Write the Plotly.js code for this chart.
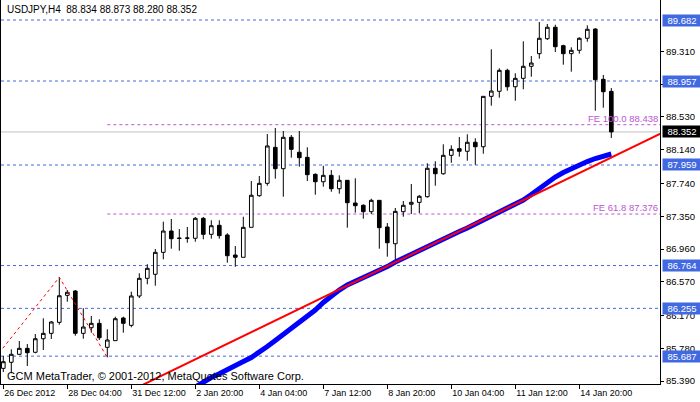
<!DOCTYPE html>
<html>
<head>
<meta charset="utf-8">
<script src="https://cdn.plot.ly/plotly-3.0.1.min.js"></script>
<style>
html,body{margin:0;padding:0;background:#fff;}
#chart{width:700px;height:402px;}
</style>
</head>
<body>
<div id="chart"></div>
<script>
const symbolName = 'USDJPY,H4';
const openP = [85.542,85.614,85.709,85.780,85.733,85.894,85.958,86.089,86.410,86.461,
85.958,86.025,86.077,85.792,85.871,86.140,86.053,86.402,86.612,86.660,
86.921,87.174,87.091,87.088,87.088,87.325,87.135,87.242,87.127,86.889,
86.862,87.218,87.594,87.741,88.169,87.915,88.288,88.110,88.050,87.848,
87.760,87.836,87.677,87.777,87.507,87.480,87.404,87.539,87.222,87.023,
87.404,87.492,87.515,87.582,87.920,87.855,88.074,88.153,88.122,88.229,
88.176,88.775,88.835,89.084,88.889,88.989,89.132,89.282,89.460,89.596,
89.377,89.282,89.322,89.465,89.575,88.977,88.834];
const highP = [85.689,85.768,85.867,85.831,85.950,86.137,86.105,86.624,86.473,86.473,
86.256,86.164,86.125,86.006,86.156,86.156,86.453,86.672,86.779,86.960,
87.285,87.317,87.198,87.222,87.341,87.341,87.302,87.302,87.147,86.996,
87.344,87.769,87.828,88.327,88.399,88.363,88.315,88.363,88.169,87.860,
87.950,87.899,87.836,87.777,87.801,87.492,87.558,87.539,87.269,87.448,
87.531,87.733,87.602,87.979,88.003,88.205,88.193,88.292,88.324,88.276,
88.775,89.334,89.108,89.103,89.049,89.429,89.254,89.659,89.635,89.626,
89.389,89.358,89.477,89.619,89.584,89.029,88.873];
const lowP = [85.498,85.483,85.700,85.570,85.721,85.760,85.891,86.061,86.334,85.930,
85.894,85.966,85.879,85.673,85.867,85.966,86.030,86.378,86.541,86.524,
86.838,86.964,86.940,87.035,87.047,87.076,87.083,87.083,86.798,86.750,
86.862,87.218,87.582,87.713,87.796,87.582,88.046,87.939,87.769,87.606,
87.701,87.641,87.618,87.214,87.392,87.321,87.376,86.964,86.869,86.830,
87.344,87.376,87.385,87.570,87.713,87.844,87.986,88.058,88.010,87.962,
88.093,88.664,88.759,88.842,88.723,88.859,89.008,89.222,89.445,89.302,
89.151,89.068,89.282,89.424,88.604,88.640,88.280];
const closeP = [85.621,85.709,85.780,85.728,85.894,85.958,86.093,86.405,86.446,85.958,
86.033,86.077,85.906,85.879,86.132,86.077,86.402,86.612,86.731,86.921,
87.174,87.083,87.086,87.091,87.325,87.135,87.237,87.119,86.881,86.862,
87.218,87.599,87.741,88.185,87.915,88.288,88.145,88.046,87.844,87.760,
87.836,87.677,87.777,87.511,87.475,87.404,87.539,87.214,87.035,87.408,
87.480,87.515,87.587,87.920,87.855,88.074,88.145,88.122,88.229,88.176,
88.775,88.838,89.084,88.889,88.989,89.132,89.171,89.465,89.596,89.365,
89.282,89.322,89.465,89.572,88.973,88.830,88.352];

// thick blue moving average, starting at bar 24
const maStart = 24;
const maBlue = [85.320,85.383,85.433,85.478,85.528,85.588,85.623,85.671,85.730,85.802,
85.873,85.944,86.016,86.087,86.164,86.235,86.325,86.408,86.473,86.533,
86.574,86.616,86.657,86.699,86.752,86.806,86.853,86.895,86.943,86.990,
87.038,87.079,87.121,87.168,87.210,87.258,87.305,87.359,87.400,87.448,
87.495,87.543,87.608,87.680,87.757,87.816,87.870,87.917,87.959,88.000,
88.036,88.066,88.090];

// red trend line (two anchor points: bar index, price)
const trendX = [17, 82.5];
const trendY = [85.326, 88.349];

// Fibonacci expansion anchor points (red dotted)
const feX = [-0.07, 7, 13];
const feY = [85.780, 86.624, 85.673];

const xTickIdx = [0,8,16,24,32,40,48,56,64,72];
const xTickText = ['26 Dec 2012','28 Dec 04:00','31 Dec 12:00','2 Jan 20:00','4 Jan 04:00','7 Jan 12:00','8 Jan 20:00','10 Jan 04:00','11 Jan 12:00','14 Jan 20:00'];
const yTicks = [89.310,88.920,88.530,88.140,87.740,87.350,86.960,86.570,86.170,85.780,85.390];

const hLevels = [89.682,88.957,87.959,86.764,86.255,85.687];
const feLevels = [88.438,87.376];
const feNames = ['FE 100.0','FE 61.8'];
const feStartBar = 13;

const idx = openP.map((_, i) => i);
const maX = maBlue.map((_, i) => i + maStart);
const last = closeP.length - 1;
const bid = closeP[last];

const FONT = 'Liberation Sans, Arial, sans-serif';
const BLUE_LVL = 'rgb(65,105,225)';
const FE_COL = 'rgb(186,85,211)';

const traces = [
  {
    type: 'candlestick', x: idx, open: openP, high: highP, low: lowP, close: closeP,
    increasing: {line: {color: '#000', width: 1}, fillcolor: '#fff'},
    decreasing: {line: {color: '#000', width: 1}, fillcolor: '#000'},
    whiskerwidth: 0, hoverinfo: 'skip', showlegend: false
  },
  {
    type: 'scatter', mode: 'lines', x: maX, y: maBlue,
    line: {color: 'rgb(0,0,255)', width: 5}, hoverinfo: 'skip', showlegend: false
  },
  {
    type: 'scatter', mode: 'lines', x: trendX, y: trendY,
    line: {color: 'rgb(255,0,0)', width: 2}, hoverinfo: 'skip', showlegend: false
  },
  {
    type: 'scatter', mode: 'lines', x: feX, y: feY,
    line: {color: 'rgb(255,0,0)', width: 1, dash: 'dot'}, hoverinfo: 'skip', showlegend: false
  }
];

const shapes = [];
hLevels.forEach(v => shapes.push({
  type: 'line', xref: 'paper', x0: 0, x1: 1, yref: 'y', y0: v, y1: v,
  line: {color: BLUE_LVL, width: 1, dash: '3px,3px'}, layer: 'below'
}));
feLevels.forEach(v => shapes.push({
  type: 'line', xref: 'x', x0: feStartBar, x1: 90, yref: 'y', y0: v, y1: v,
  line: {color: FE_COL, width: 1, dash: '3px,3px'}, layer: 'below'
}));
shapes.push({
  type: 'line', xref: 'paper', x0: 0, x1: 1, yref: 'y', y0: bid, y1: bid,
  line: {color: 'rgb(192,192,192)', width: 1}, layer: 'below'
});

const annotations = [];
hLevels.forEach(v => annotations.push({
  xref: 'paper', x: 1, xanchor: 'left', xshift: 2, yref: 'y', y: v, yanchor: 'middle',
  text: v.toFixed(3), showarrow: false, bgcolor: BLUE_LVL, width: 38, height: 11, borderpad: 0,
  font: {family: FONT, size: 9.5, color: '#fff'}, align: 'center'
}));
annotations.push({
  xref: 'paper', x: 1, xanchor: 'left', xshift: 2, yref: 'y', y: bid, yanchor: 'middle',
  text: bid.toFixed(3), showarrow: false, bgcolor: '#000', width: 38, height: 11, borderpad: 0,
  font: {family: FONT, size: 9.5, color: '#fff'}, align: 'center'
});
feLevels.forEach((v, k) => annotations.push({
  xref: 'paper', x: 1, xanchor: 'right', xshift: -1, yref: 'y', y: v, yanchor: 'bottom',
  text: feNames[k] + ' ' + v.toFixed(3), showarrow: false, borderpad: 0,
  font: {family: FONT, size: 9.5, color: FE_COL}
}));
annotations.push({
  xref: 'paper', x: 0, xanchor: 'left', xshift: 5, yref: 'paper', y: 1, yanchor: 'top', yshift: -3,
  text: symbolName + '\u00A0\u00A0' + [openP[last], highP[last], lowP[last], closeP[last]].map(v => v.toFixed(3)).join(' '),
  showarrow: false, borderpad: 0, font: {family: FONT, size: 10, color: '#000'}
});
annotations.push({
  xref: 'paper', x: 0, xanchor: 'left', xshift: 5, yref: 'paper', y: 0, yanchor: 'bottom', yshift: 1,
  text: 'GCM MetaTrader, © 2001-2012, MetaQuotes Software Corp.',
  showarrow: false, borderpad: 0, font: {family: FONT, size: 11, color: '#000'}
});

const layout = {
  width: 700, height: 402,
  margin: {l: 1, r: 40, t: 0, b: 18, pad: 0},
  paper_bgcolor: '#fff', plot_bgcolor: '#fff',
  showlegend: false,
  boxgap: 0.35,
  xaxis: {
    type: 'linear', range: [-0.2875, 82.0875], rangeslider: {visible: false},
    tickmode: 'array', tickvals: xTickIdx, ticktext: xTickText, tickangle: 0,
    ticks: 'outside', ticklen: 4, tickcolor: '#000', tickwidth: 1,
    ticklabelposition: 'outside right',
    showgrid: false, zeroline: false, showline: true, linecolor: '#000', linewidth: 1,
    tickfont: {family: FONT, size: 9, color: '#000'}, fixedrange: true
  },
  yaxis: {
    side: 'right', range: [85.356, 89.92],
    tickmode: 'array', tickvals: yTicks, ticktext: yTicks.map(v => v.toFixed(3)),
    ticks: 'outside', ticklen: 3, tickcolor: '#000', tickwidth: 1,
    showgrid: false, zeroline: false, showline: true, mirror: true, linecolor: '#000', linewidth: 1,
    tickfont: {family: FONT, size: 9.5, color: '#000'}, fixedrange: true
  },
  shapes: shapes,
  annotations: annotations
};

Plotly.newPlot('chart', traces, layout, {staticPlot: true, displayModeBar: false});
</script>
</body>
</html>
